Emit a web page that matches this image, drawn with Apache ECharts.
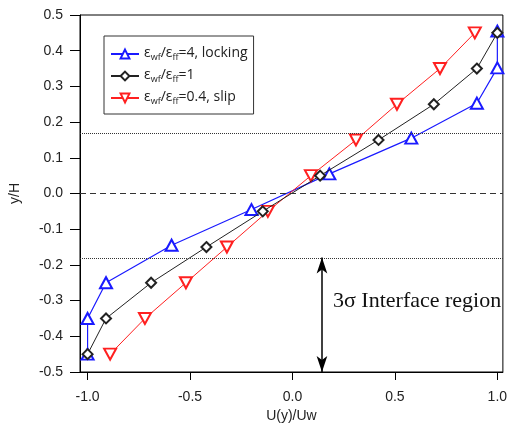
<!DOCTYPE html>
<html>
<head>
<meta charset="utf-8">
<script src="https://cdn.jsdelivr.net/npm/echarts@6/dist/echarts.min.js"></script>
<style>
  html, body { margin: 0; padding: 0; background: #fff; }
  #main { width: 510px; height: 434px; }
</style>
</head>
<body>
<div id="main"></div>
<script>
// data
var lockX = [-1.0, -1.0, -0.91, -0.59, -0.2, 0.18, 0.58, 0.9, 1.0, 1.0];
var lockY = [-0.45, -0.35, -0.25, -0.145, -0.045, 0.055, 0.155, 0.253, 0.352, 0.455];
var oneX = [-1.0, -0.91, -0.69, -0.42, -0.145, 0.135, 0.42, 0.69, 0.9, 1.0];
var oneY = [-0.45, -0.35, -0.25, -0.15, -0.05, 0.05, 0.15, 0.25, 0.35, 0.45];
var slipX = [-0.89, -0.72, -0.52, -0.32, -0.12, 0.09, 0.31, 0.51, 0.72, 0.89];
var slipY = [-0.45, -0.35, -0.25, -0.15, -0.05, 0.05, 0.15, 0.25, 0.35, 0.45];
var xTicks = [-1.0, -0.5, 0.0, 0.5, 1.0];
var regionTop = 0.168;
var regionBottom = -0.179;
var arrowX = 0.144;

function pairs(xs, ys) {
  return xs.map(function (x, i) { return [x, ys[i]]; });
}

var legendText = {
  locking: '{e|ε}{s|wf}{e|/ε}{s|ff}{e|=4, locking}',
  one: '{e|ε}{s|wf}{e|/ε}{s|ff}{e|=1}',
  slip: '{e|ε}{s|wf}{e|/ε}{s|ff}{e|=0.4, slip}'
};

var chart = echarts.init(document.getElementById('main'));
var option = {
  animation: false,
  backgroundColor: '#fff',
  grid: {
    left: 74, right: 6, top: 15, bottom: 62,
    show: true, borderColor: '#000', borderWidth: 1
  },
  legend: {
    orient: 'vertical',
    left: 104, top: 36,
    padding: [10, 6, 8, 6],
    itemGap: 6,
    itemWidth: 28,
    itemHeight: 11,
    borderColor: '#333', borderWidth: 1,
    backgroundColor: '#fff',
    data: ['locking', 'one', 'slip'],
    formatter: function (name) { return legendText[name]; },
    textStyle: {
      rich: {
        e: { fontSize: 14, fontFamily: 'Open Sans', color: '#222', lineHeight: 16, verticalAlign: 'top' },
        s: { fontSize: 9, fontFamily: 'Open Sans', color: '#222', lineHeight: 10, padding: [7, 0, 0, 0], verticalAlign: 'top' }
      }
    }
  },
  xAxis: {
    type: 'value',
    min: -1.037, max: 1.027,
    name: 'U(y)/Uw',
    nameLocation: 'middle',
    nameGap: 32,
    nameTextStyle: { fontSize: 14, fontFamily: 'Liberation Sans', color: '#222' },
    axisLine: { onZero: false, lineStyle: { color: '#000', width: 1 } },
    axisTick: { length: 8, lineStyle: { color: '#000' }, customValues: xTicks },
    axisLabel: {
      customValues: xTicks, margin: 18,
      fontSize: 14, fontFamily: 'Liberation Sans', color: '#222',
      formatter: function (v) { return v.toFixed(1); }
    },
    splitLine: { show: false }
  },
  yAxis: {
    type: 'value',
    min: -0.5, max: 0.5, interval: 0.1,
    name: 'y/H',
    nameLocation: 'middle',
    nameGap: 58,
    nameRotate: 90,
    nameTextStyle: { fontSize: 14, fontFamily: 'Liberation Sans', color: '#222' },
    axisLine: { show: true, onZero: false, lineStyle: { color: '#000', width: 1 } },
    axisTick: { show: true, length: 10, lineStyle: { color: '#000' } },
    axisLabel: {
      margin: 17,
      fontSize: 14, fontFamily: 'Liberation Sans', color: '#222',
      formatter: function (v) { return v.toFixed(1); }
    },
    splitLine: { show: false }
  },
  graphic: [{
    type: 'text',
    left: 333, top: 290,
    style: {
      text: '3σ Interface region',
      font: '22px "Liberation Serif"',
      fill: '#111'
    }
  }],
  series: [
    {
      name: 'locking',
      type: 'line',
      data: pairs(lockX, lockY),
      symbol: 'emptyTriangle',
      symbolSize: [12, 11],
      lineStyle: { color: '#1a1aff', width: 1.2 },
      itemStyle: { color: '#1a1aff', borderWidth: 1.2 },
      z: 3
    },
    {
      name: 'one',
      type: 'line',
      data: pairs(oneX, oneY),
      symbol: 'emptyDiamond',
      symbolSize: [10, 10],
      lineStyle: { color: '#222', width: 1 },
      itemStyle: { color: '#222', borderWidth: 1 },
      z: 4,
      markLine: {
        silent: true,
        symbol: 'none',
        label: { show: false },
        data: [
          { yAxis: regionTop, lineStyle: { type: [1, 1], color: '#333', width: 1 } },
          { yAxis: regionBottom, lineStyle: { type: [1, 1], color: '#333', width: 1 } },
          { yAxis: 0, lineStyle: { type: [6, 4], color: '#333', width: 1.2 } },
          [
            { coord: [arrowX, regionBottom], symbol: 'arrow', symbolSize: [8, 16] },
            { coord: [arrowX, -0.5], symbol: 'arrow', symbolSize: [8, 16],
              lineStyle: { type: 'solid', color: '#000', width: 1.5 } }
          ]
        ]
      }
    },
    {
      name: 'slip',
      type: 'line',
      data: pairs(slipX, slipY),
      symbol: 'emptyTriangle',
      symbolRotate: 180,
      symbolSize: [12, 11],
      lineStyle: { color: '#ff2020', width: 1 },
      itemStyle: { color: '#ff2020', borderWidth: 1 },
      z: 3
    }
  ]
};
chart.setOption(option);
</script>
</body>
</html>
